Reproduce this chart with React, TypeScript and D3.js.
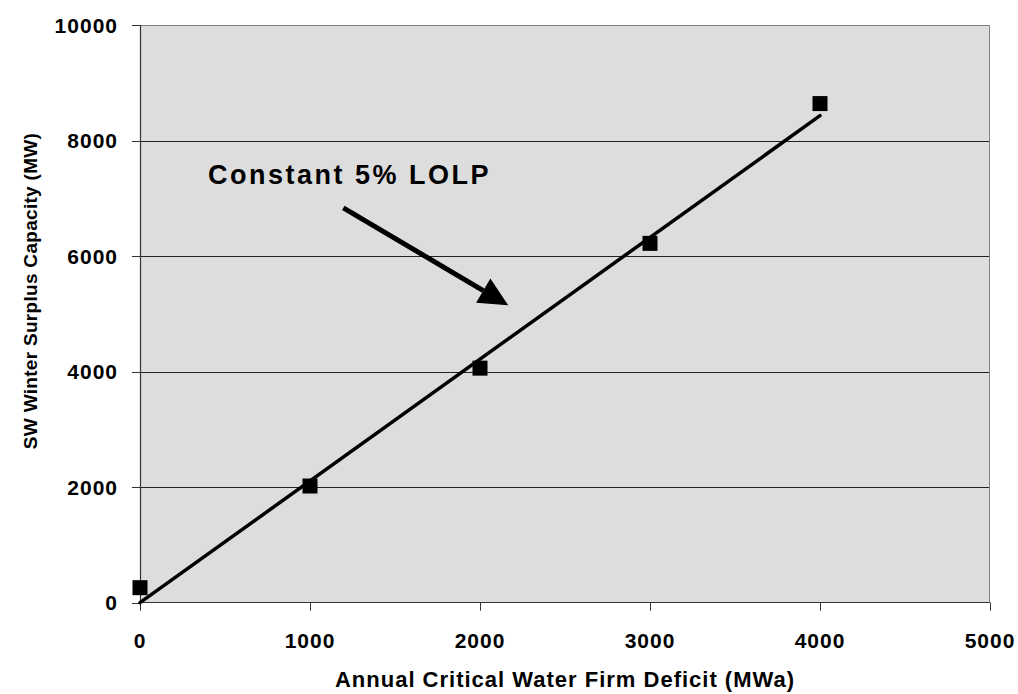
import React from "react";
import * as d3 from "d3";

const deficitMWa = [0, 1000, 2000, 3000, 4000];
const surplusMW = [260, 2020, 4060, 6220, 8640];
const trendX = [0, 4000];
const trendY = [0, 8430];
const xTicks = [0, 1000, 2000, 3000, 4000, 5000];
const yTicks = [0, 2000, 4000, 6000, 8000, 10000];
const annotationText = "Constant 5% LOLP";
const annotationPos = [400, 7253];
const arrowFrom = [1196, 6835];
const arrowTo = [2166, 5147];

const W = 1018;
const H = 694;
const M = { left: 140, right: 990, top: 25, bottom: 602.7 };
const FONT = "'Liberation Sans', Arial, sans-serif";

export default function App() {
  const x = d3.scaleLinear().domain([0, 5000]).range([M.left, M.right]);
  const y = d3.scaleLinear().domain([0, 10000]).range([M.bottom, M.top]);
  const line = d3
    .line<number>()
    .x((_, i) => x(trendX[i]))
    .y((d) => y(d));

  const ax = x(arrowFrom[0]);
  const ay = y(arrowFrom[1]);
  const tx = x(arrowTo[0]);
  const ty = y(arrowTo[1]);
  const ang = Math.atan2(ty - ay, tx - ax);
  const headLen = 29;
  const headW = 14;
  const bx = tx - headLen * Math.cos(ang);
  const by = ty - headLen * Math.sin(ang);
  const px = -Math.sin(ang);
  const py = Math.cos(ang);
  const head = `M${tx},${ty}L${bx + px * headW},${by + py * headW}L${bx - px * headW},${by - py * headW}Z`;

  const sq = 15;

  return (
    <svg
      width={W}
      height={H}
      style={{ position: "absolute", left: 0, top: 0 }}
      fontFamily={FONT}
    >
      <rect x={0} y={0} width={W} height={H} fill="#ffffff" />
      <rect
        x={M.left}
        y={M.top}
        width={M.right - M.left}
        height={M.bottom - M.top}
        fill="#dddddd"
      />
      {yTicks.slice(1, -1).map((t) => (
        <line
          key={"g" + t}
          x1={M.left}
          x2={M.right}
          y1={Math.round(y(t)) + 0.5}
          y2={Math.round(y(t)) + 0.5}
          stroke="#222"
          strokeWidth={1}
        />
      ))}
      <line x1={M.left} x2={M.right} y1={M.top + 0.5} y2={M.top + 0.5} stroke="#808080" strokeWidth={1} />
      <line x1={M.right - 0.5} x2={M.right - 0.5} y1={M.top} y2={M.bottom} stroke="#808080" strokeWidth={1} />
      <line x1={M.left} x2={M.right} y1={Math.round(M.bottom) - 0.5} y2={Math.round(M.bottom) - 0.5} stroke="#333" strokeWidth={1.2} />
      <line x1={M.left + 0.5} x2={M.left + 0.5} y1={M.top} y2={M.bottom} stroke="#333" strokeWidth={1.2} />
      {xTicks.map((t) => (
        <g key={"x" + t}>
          <line
            x1={Math.round(x(t)) + 0.5}
            x2={Math.round(x(t)) + 0.5}
            y1={M.bottom}
            y2={M.bottom + 8}
            stroke="#333"
          />
          <text
            x={x(t)}
            y={648}
            textAnchor="middle"
            fontSize={21}
            fontWeight="bold"
            letterSpacing={1}
            fill="#000"
          >
            {t}
          </text>
        </g>
      ))}
      {yTicks.map((t) => (
        <g key={"y" + t}>
          <line
            x1={M.left - 8}
            x2={M.left}
            y1={Math.round(y(t)) + 0.5}
            y2={Math.round(y(t)) + 0.5}
            stroke="#333"
          />
          <text
            x={118}
            y={y(t)}
            dy="0.36em"
            textAnchor="end"
            fontSize={21}
            fontWeight="bold"
            letterSpacing={1}
            fill="#000"
          >
            {t}
          </text>
        </g>
      ))}
      <text
        x={(M.left + M.right) / 2}
        y={687}
        textAnchor="middle"
        fontSize={22}
        fontWeight="bold"
        letterSpacing={1}
        fill="#000"
      >
        Annual Critical Water Firm Deficit (MWa)
      </text>
      <text
        transform={`translate(37,291) rotate(-90)`}
        textAnchor="middle"
        fontSize={19}
        fontWeight="bold"
        letterSpacing={0.3}
        fill="#000"
      >
        SW Winter Surplus Capacity (MW)
      </text>
      <path
        d={line(trendY) || ""}
        fill="none"
        stroke="#000"
        strokeWidth={3.5}
        strokeLinecap="round"
      />
      {deficitMWa.map((d, i) => (
        <rect
          key={"m" + i}
          x={x(d) - sq / 2}
          y={y(surplusMW[i]) - sq / 2}
          width={sq}
          height={sq}
          fill="#000"
        />
      ))}
      <line
        x1={ax}
        y1={ay}
        x2={bx}
        y2={by}
        stroke="#000"
        strokeWidth={5}
        strokeLinecap="butt"
      />
      <path d={head} fill="#000" />
      <text
        x={x(annotationPos[0])}
        y={y(annotationPos[1])}
        fontSize={27}
        fontWeight="bold"
        letterSpacing={2.5}
        fill="#000"
      >
        {annotationText}
      </text>
    </svg>
  );
}
